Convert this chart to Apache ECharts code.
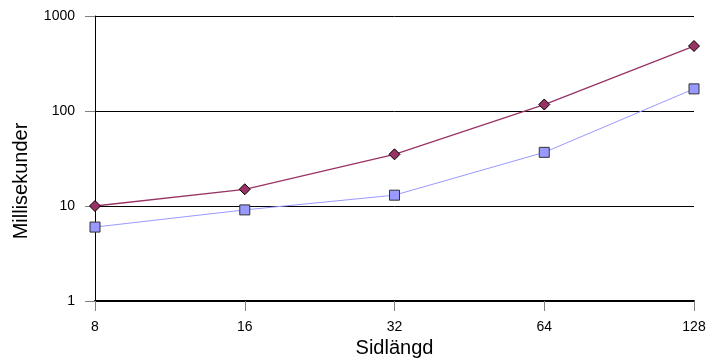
<!DOCTYPE html>
<html><head><meta charset="utf-8">
<script src="https://cdn.jsdelivr.net/npm/echarts@6/dist/echarts.min.js"></script>
<style>html,body{margin:0;padding:0;background:#fff}#c{width:710px;height:362px}</style>
</head><body><div id="c"></div>
<script>
const categories = ['8', '16', '32', '64', '128'];
const seriesRed = [10, 15, 35, 117, 483];
const seriesBlue = [6, 9.1, 13, 36.7, 171];
const xTitle = 'Sidlängd';
const yTitle = 'Millisekunder';

const chart = echarts.init(document.getElementById('c'), null, {renderer: 'canvas'});
const font = 'Liberation Sans, Arial, sans-serif';
chart.setOption({
  animation: false,
  backgroundColor: '#fff',
  grid: {left: 95, right: 16, top: 16, bottom: 61, containLabel: false, outerBoundsMode: 'none'},
  xAxis: {
    type: 'category', data: categories, boundaryGap: false,
    axisLine: {lineStyle: {color: '#000', width: 2}},
    axisTick: {show: true, alignWithLabel: true, length: 10, lineStyle: {color: '#808080'}},
    axisLabel: {color: '#000', fontFamily: font, fontSize: 14, margin: 19},
    name: xTitle, nameLocation: 'middle', nameGap: 37,
    nameTextStyle: {color: '#000', fontFamily: font, fontSize: 20}
  },
  yAxis: {
    type: 'log', logBase: 10, min: 1, max: 1000,
    axisLine: {show: true, lineStyle: {color: '#000', width: 1}},
    axisTick: {show: true, length: 10, lineStyle: {color: '#808080'}},
    axisLabel: {color: '#000', fontFamily: font, fontSize: 14, margin: 20,
      formatter: v => String(Math.round(v))},
    splitLine: {show: true, lineStyle: {color: '#000', width: 1}},
    minorTick: {show: false}
  },
  graphic: [{
    type: 'text', rotation: Math.PI / 2,
    x: 21, y: 181,
    style: {text: yTitle, fontFamily: font, fontSize: 20, fill: '#000', textAlign: 'center', textVerticalAlign: 'middle'}
  }],
  series: [
    {
      type: 'line', data: seriesRed, symbol: 'diamond', symbolSize: 11,
      lineStyle: {color: '#993366', width: 1.3},
      itemStyle: {color: '#993366', borderColor: '#000', borderWidth: 1},
      z: 3
    },
    {
      type: 'line', data: seriesBlue, symbol: 'rect', symbolSize: 10,
      lineStyle: {color: '#9999FF', width: 1},
      itemStyle: {color: '#9999FF', borderColor: '#333', borderWidth: 1},
      z: 2
    }
  ]
});
</script></body></html>
